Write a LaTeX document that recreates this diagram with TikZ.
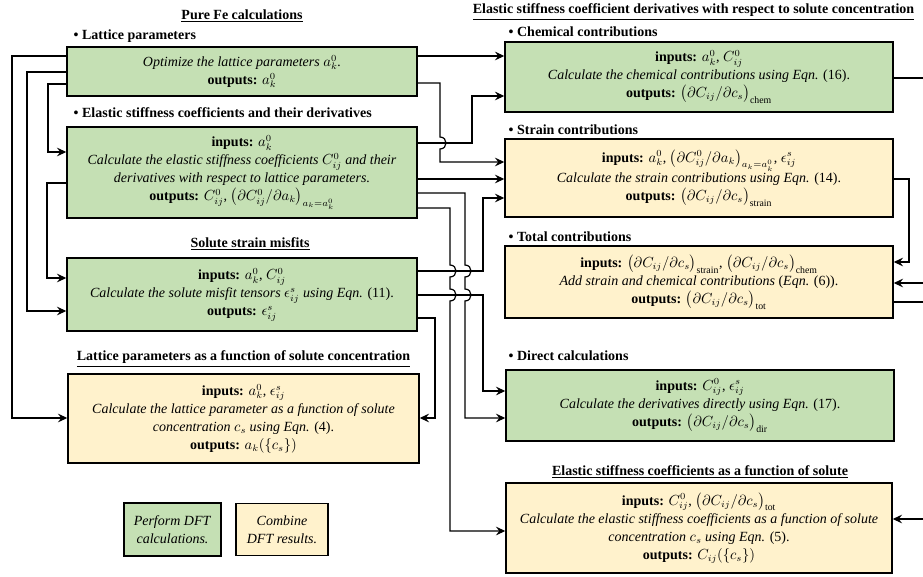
\documentclass[tikz,border=0pt]{standalone}
\usepackage{fontspec}
\setmainfont{Liberation Serif}
\usepackage{amsmath}
\usetikzlibrary{arrows.meta,calc,positioning}

\begin{document}
\begin{tikzpicture}[
    x=0.75pt, y=-0.75pt,
    font=\fontsize{10.5}{13.5}\selectfont,
    >=Stealth,
]

\definecolor{dftCol}{RGB}{197, 224, 180}
\definecolor{combCol}{RGB}{255, 242, 204}

\tikzset{
    dft_node/.style = {rectangle, draw=black, line width=1.1pt, fill=dftCol,
                       align=center, inner sep=2pt},
    comb_node/.style = {rectangle, draw=black, line width=1.1pt, fill=combCol,
                        align=center, inner sep=2pt},
    arrow/.style = {line width=0.9pt, -{Stealth[length=7pt, width=6.5pt, inset=2.5pt]}},
    link/.style = {line width=0.9pt},
    head/.style = {font=\fontsize{10.5}{13.5}\selectfont\bfseries},
    sub_head/.style = {anchor=west, font=\fontsize{10.5}{13.5}\selectfont\bfseries}
}

\useasboundingbox (0, 0) rectangle (923, 577);

% =========== PURE FE CALCULATIONS ===========
\node[head] (fe_title) at (242, 16) {\underline{Pure Fe calculations}};

\node[sub_head] (lat_head) at (69, 36) {\textbullet\ Lattice parameters};
\node[dft_node, minimum width=262.5pt, minimum height=36.75pt] (lat) at (242, 71.5)
    {\textit{Optimize the lattice parameters $a_k^0$.}\\
     \textbf{outputs:} $a_k^0$};

\node[sub_head] (cij_head) at (69, 113) {\textbullet\ Elastic stiffness coefficients and their derivatives};
\node[dft_node, minimum width=262.5pt, minimum height=68.25pt] (cij) at (242, 172.5)
    {\textbf{inputs:} $a_k^0$\\
     \textit{Calculate the elastic stiffness coefficients $C_{ij}^0$ and their}\\
     \textit{derivatives with respect to lattice parameters.}\\
     \textbf{outputs:} $C_{ij}^0$, $\bigl(\partial C_{ij}^0/\partial a_k\bigr)_{a_k=a_k^0}$};

% =========== SOLUTE STRAIN MISFITS ===========
\node[head] (mis_title) at (250, 244) {\underline{Solute strain misfits}};
\node[dft_node, minimum width=262.5pt, minimum height=54.75pt] (mis) at (242, 294.5)
    {\textbf{inputs:} $a_k^0$, $C_{ij}^0$\\
     \textit{Calculate the solute misfit tensors $\epsilon_{ij}^s$ using Eqn.} (11).\\
     \textbf{outputs:} $\epsilon_{ij}^s$};

% =========== LATTICE PARAMETERS VS CONCENTRATION ===========
\node[head] (acs_title) at (243.5, 359) {\underline{Lattice parameters as a function of solute concentration}};
\node[comb_node, minimum width=263.25pt, minimum height=66.75pt] (acs) at (243.5, 418.5)
    {\textbf{inputs:} $a_k^0$, $\epsilon_{ij}^s$\\
     \textit{Calculate the lattice parameter as a function of solute}\\
     \textit{concentration $c_s$ using Eqn.} (4).\\
     \textbf{outputs:} $a_k(\{c_s\})$};

% Legend
\node[dft_node, minimum width=72.75pt, minimum height=39.75pt] (key_dft) at (172.5, 529.5)
    {\textit{Perform DFT}\\ \textit{calculations.}};
\node[comb_node, minimum width=69pt, minimum height=39pt] (key_comb) at (282, 529.5)
    {\textit{Combine}\\ \textit{DFT results.}};

% =========== DERIVATIVES WRT SOLUTE CONCENTRATION ===========
\node[head] (der_title) at (693.5, 12) {\underline{Elastic stiffness coefficient derivatives with respect to solute concentration}};

\node[sub_head] (chem_head) at (504, 32) {\textbullet\ Chemical contributions};
\node[dft_node, minimum width=291pt, minimum height=52.5pt] (chem) at (699, 77)
    {\textbf{inputs:} $a_k^0$, $C_{ij}^0$\\
     \textit{Calculate the chemical contributions using Eqn.} (16).\\
     \textbf{outputs:} $\bigl(\partial C_{ij}/\partial c_s\bigr)_{\mathrm{chem}}$};

\node[sub_head] (str_head) at (504, 130) {\textbullet\ Strain contributions};
\node[comb_node, minimum width=291pt, minimum height=58.5pt] (str) at (699, 178)
    {\textbf{inputs:} $a_k^0$, $\bigl(\partial C_{ij}^0/\partial a_k\bigr)_{a_k=a_k^0}$, $\epsilon_{ij}^s$\\
     \textit{Calculate the strain contributions using Eqn.} (14).\\
     \textbf{outputs:} $\bigl(\partial C_{ij}/\partial c_s\bigr)_{\mathrm{strain}}$};

\node[sub_head] (tot_head) at (504, 237) {\textbullet\ Total contributions};
\node[comb_node, minimum width=291pt, minimum height=54pt] (tot) at (699, 282)
    {\textbf{inputs:} $\bigl(\partial C_{ij}/\partial c_s\bigr)_{\mathrm{strain}}$, $\bigl(\partial C_{ij}/\partial c_s\bigr)_{\mathrm{chem}}$\\
     \textit{Add strain and chemical contributions} (\textit{Eqn.} (6)).\\
     \textbf{outputs:} $\bigl(\partial C_{ij}/\partial c_s\bigr)_{\mathrm{tot}}$};

\node[sub_head] (dir_head) at (504, 356) {\textbullet\ Direct calculations};
\node[dft_node, minimum width=291pt, minimum height=53.25pt] (dir) at (700, 405.5)
    {\textbf{inputs:} $C_{ij}^0$, $\epsilon_{ij}^s$\\
     \textit{Calculate the derivatives directly using Eqn.} (17).\\
     \textbf{outputs:} $\bigl(\partial C_{ij}/\partial c_s\bigr)_{\mathrm{dir}}$};

% =========== ELASTIC STIFFNESS VS SOLUTE ===========
\node[head] (ccs_title) at (700, 472) {\underline{Elastic stiffness coefficients as a function of solute}};
\node[comb_node, minimum width=289.5pt, minimum height=67.5pt] (ccs) at (699, 528)
    {\textbf{inputs:} $C_{ij}^0$, $\bigl(\partial C_{ij}/\partial c_s\bigr)_{\mathrm{tot}}$\\
     \textit{Calculate the elastic stiffness coefficients as a function of solute}\\
     \textit{concentration $c_s$ using Eqn.} (5).\\
     \textbf{outputs:} $C_{ij}(\{c_s\})$};

% Loose ends at the right border
\coordinate (out_chem) at (923, 78);
\coordinate (in_tot) at (923, 283);
\coordinate (out_tot) at (923, 302);
\coordinate (in_ccs) at (923, 519);

% Arrows on the left side
\draw[arrow] (lat.west |- 0,56) -- (12, 56) |- (acs.west |- 0,418);
\draw[arrow] (lat.west |- 0,72) -- (27, 72) |- (mis.west |- 0,311);
\draw[arrow] (lat.west |- 0,84) -- (48, 84) |- (cij.west |- 0,152);
\draw[arrow] (cij.west |- 0,183) -- (47, 183) |- (mis.west |- 0,278);

% Arrows between the columns
\draw[arrow] (lat.east |- 0,56) -- (chem.west |- 0,56);
\draw[arrow] (lat.east |- 0,83) -- (440, 83) -- (440, 137)
    .. controls (448, 137) and (448, 149) .. (440, 149) |- (str.west |- 0,162);
\draw[arrow] (cij.east |- 0,143) -- (472, 143) |- (chem.west |- 0,96);
\draw[arrow] (cij.east |- 0,179) -- (str.west |- 0,179);
\draw[arrow] (cij.east |- 0,193) -- (465, 193) -- (465, 265)
    .. controls (473, 265) and (473, 277) .. (465, 277) -- (465, 289)
    .. controls (473, 289) and (473, 301) .. (465, 301) |- (dir.west |- 0,418);
\draw[arrow] (cij.east |- 0,208) -- (450, 208) -- (450, 265)
    .. controls (458, 265) and (458, 277) .. (450, 277) -- (450, 289)
    .. controls (458, 289) and (458, 301) .. (450, 301) |- (ccs.west |- 0,531);
\draw[arrow] (mis.east |- 0,271) -- (483, 271) |- (str.west |- 0,198);
\draw[arrow] (mis.east |- 0,295) -- (483, 295) |- (dir.west |- 0,391);
\draw[arrow] (mis.east |- 0,318) -- (435, 318) |- (acs.east |- 0,418);

% Arrows on the right side
\draw[link] (chem.east |- 0,78) -- (out_chem);
\draw[arrow] (str.east |- 0,179) -- (909, 179) |- (tot.east |- 0,262);
\draw[arrow] (in_tot) -- (tot.east |- 0,283);
\draw[link] (tot.east |- 0,302) -- (out_tot);
\draw[arrow] (in_ccs) -- (ccs.east |- 0,519);

\end{tikzpicture}
\end{document}
